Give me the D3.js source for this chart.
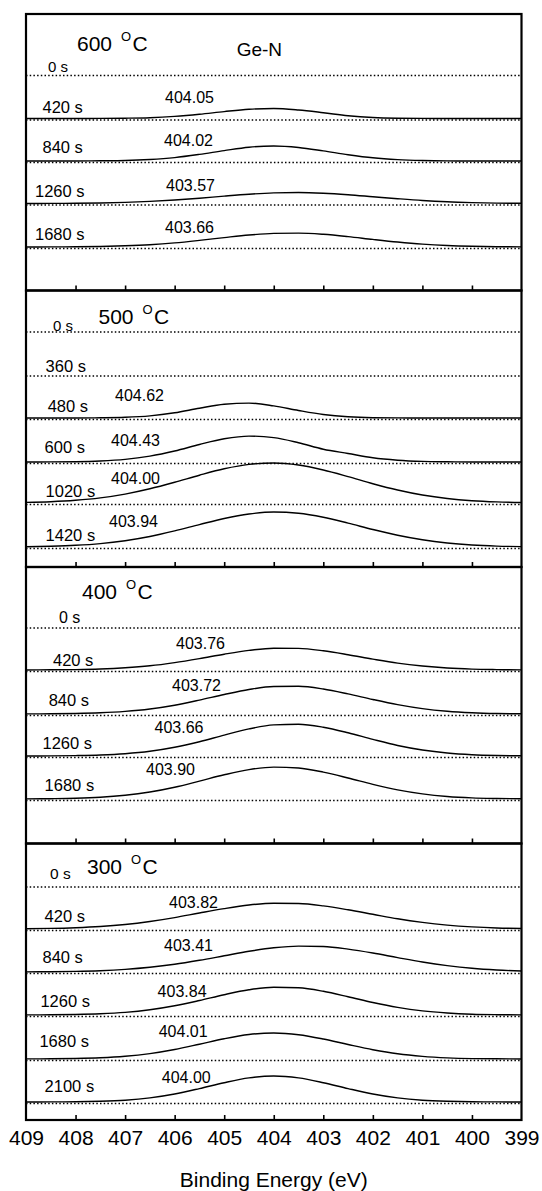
<!DOCTYPE html>
<html>
<head>
<meta charset="utf-8">
<script src="https://cdn.jsdelivr.net/npm/d3@7"></script>
<style>
    body { margin: 0; background: #fff; }
    #chart-area { width: 542px; height: 1191px; }
    text { font-family: "Liberation Sans", Arial, sans-serif; fill: #000; }
</style>
</head>
<body>
<div id="chart-area"></div>
<script>
/* * * * * * * * * * * * * *
*     Ge-N XPS SPECTRA     *
* * * * * * * * * * * * * */

// binding energy grid of the fitted peaks (eV)
const energy = [409, 408.5, 408, 407.5, 407, 406.5, 406, 405.5, 405, 404.5, 404,
    403.5, 403, 402.5, 402, 401.5, 401, 400.5, 400, 399.5, 399];
const xTickValues = [409, 408, 407, 406, 405, 404, 403, 402, 401, 400, 399];
const temps = ["600", "500", "400", "300"];

// 600 C
const times600 = ["0 s", "420 s", "840 s", "1260 s", "1680 s"];
const peaks600 = ["", "404.05", "404.02", "403.57", "403.66"];
const offsets600 = [2150, 1720, 1295, 870, 435];
const spectra600 = [
    null,
    [0, 0, 0, 1, 3, 8, 21, 42, 69, 92, 100, 85, 58, 28, 10, 3, 1, 0, 0, 0, 0],
    [0, 0, 0, 2, 5, 15, 34, 66, 104, 138, 150, 135, 101, 63, 32, 14, 5, 1, 0, 0, 0],
    [0, 1, 2, 5, 11, 21, 35, 53, 74, 93, 106, 110, 103, 88, 68, 48, 30, 17, 9, 4, 2],
    [0, 1, 2, 5, 12, 23, 41, 66, 94, 120, 136, 139, 127, 104, 76, 50, 29, 15, 7, 3, 1]
];

// 500 C
const times500 = ["0 s", "360 s", "480 s", "600 s", "1020 s", "1420 s"];
const peaks500 = ["", "", "404.62", "404.43", "404.00", "403.94"];
const offsets500 = [2350, 1910, 1490, 1050, 640, 200];
const spectra500 = [
    null,
    null,
    [0, 0, 0, 2, 7, 21, 52, 98, 138, 149, 121, 75, 35, 12, 3, 1, 0, 0, 0, 0, 0],
    [0, 1, 3, 10, 26, 59, 110, 175, 232, 259, 244, 193, 128, 85, 42, 18, 6, 2, 0, 0, 0],
    [6, 13, 27, 51, 89, 142, 207, 278, 342, 386, 400, 380, 330, 264, 193, 130, 80, 45, 23, 11, 5],
    [3, 8, 17, 34, 63, 105, 161, 224, 285, 330, 350, 338, 298, 239, 175, 117, 72, 40, 20, 9, 4]
];

// 400 C
const times400 = ["0 s", "420 s", "840 s", "1260 s", "1680 s"];
const peaks400 = ["", "403.76", "403.72", "403.66", "403.90"];
const offsets400 = [2155, 1735, 1295, 875, 445];
const spectra400 = [
    null,
    [0, 2, 4, 10, 22, 42, 74, 114, 158, 196, 218, 216, 192, 153, 109, 69, 40, 20, 9, 4, 1],
    [1, 2, 5, 12, 26, 50, 88, 139, 195, 245, 275, 277, 250, 201, 145, 94, 54, 28, 13, 5, 2],
    [0, 1, 4, 10, 23, 47, 87, 143, 209, 271, 311, 318, 288, 232, 166, 105, 60, 30, 13, 5, 2],
    [1, 3, 7, 17, 37, 70, 118, 179, 242, 294, 319, 310, 269, 210, 146, 91, 51, 25, 11, 5, 2]
];

// 300 C
const times300 = ["0 s", "420 s", "840 s", "1260 s", "1680 s", "2100 s"];
const peaks300 = ["", "403.82", "403.41", "403.84", "404.01", "404.00"];
const offsets300 = [2330, 1910, 1480, 1050, 610, 180];
const spectra300 = [
    null,
    [3, 6, 13, 25, 45, 75, 114, 160, 204, 240, 258, 255, 231, 192, 147, 102, 66, 39, 21, 10, 5],
    [1, 3, 6, 13, 26, 47, 77, 117, 162, 207, 242, 259, 255, 229, 190, 144, 100, 64, 37, 20, 10],
    [1, 2, 5, 12, 26, 52, 92, 145, 203, 252, 278, 272, 237, 183, 125, 76, 41, 20, 8, 3, 1],
    [1, 2, 5, 12, 27, 54, 95, 148, 203, 245, 260, 243, 200, 145, 93, 52, 26, 11, 4, 2, 0],
    [0, 1, 2, 7, 18, 41, 80, 134, 193, 241, 260, 241, 193, 134, 80, 41, 18, 7, 2, 1, 0]
];

// label placement (px inside each panel): [time x, time dy, peak x, peak dy]
const layout600 = [[22, 4], [16.5, 6, 139, 16], [16.5, 8, 138, 15], [9, 7, 140, 13], [9, 7, 139, 14]];
const layout500 = [[27, 1], [19.6, 4], [21.7, 6, 89, 17], [18.6, 9, 85, 16], [19.6, 6, 85, 19], [19.6, 6, 83, 20]];
const layout400 = [[33, 5], [27, 4, 150, 21], [22.7, 8, 146, 23], [16.5, 7, 128.5, 23], [18.6, 8, 120, 24]];
const layout300 = [[24, 8], [18.6, 7, 143, 21], [16.5, 9, 138, 21], [14.4, 8, 131.6, 18], [13.4, 12, 132.7, 22], [18.6, 10, 135.8, 19]];
const zeroLabelSize = [15, 15, 16, 15.5];
const tempLabelPos = [[51, 36.7], [72.5, 33.5], [56, 32], [61, 30.5]];


class SpectraVis {

    constructor(parentElement, panels) {
        this.parentElement = parentElement;
        this.panels = panels;

        this.initVis();
    }

    /**
     * Sets up svg, shared x scale and the per-panel y scale
     */
    initVis() {
        let vis = this;

        vis.margin = { top: 14, right: 20.5, bottom: 71, left: 26 };
        vis.width = 542 - vis.margin.left - vis.margin.right;
        vis.height = 1191 - vis.margin.top - vis.margin.bottom;

        vis.svg = d3.select("#" + vis.parentElement).append("svg")
            .attr("width", 542)
            .attr("height", 1191)
            .append("g")
            .attr("transform", `translate(${vis.margin.left}, ${vis.margin.top})`);

        vis.panelH = vis.height / vis.panels.length;

        vis.x = d3.scaleLinear()
            .domain([409, 399])
            .range([0, vis.width]);

        // intensity (a.u.) inside one panel
        vis.y = d3.scaleLinear()
            .domain([0, 2765])
            .range([vis.panelH, 0]);

        vis.line = d3.line()
            .x(d => vis.x(d[0]))
            .y(d => vis.y(d[1]))
            .curve(d3.curveMonotoneX);

        vis.updateVis();
    }

    updateVis() {
        let vis = this;

        vis.panelGroups = vis.svg.selectAll(".panel")
            .data(vis.panels)
            .enter().append("g")
            .attr("class", "panel")
            .attr("transform", (d, i) => `translate(0, ${i * vis.panelH})`);

        vis.panelGroups.each(function (p, i) {
            let g = d3.select(this);

            // frame
            g.append("rect")
                .attr("width", vis.width)
                .attr("height", vis.panelH)
                .attr("fill", "none")
                .attr("stroke", "#000")
                .attr("stroke-width", 2.2);

            // inward ticks on the bottom edge
            g.append("g")
                .attr("transform", `translate(0, ${vis.panelH})`)
                .call(d3.axisBottom(vis.x).tickValues(xTickValues.slice(1, -1)).tickSize(-5).tickFormat(""))
                .call(a => a.select(".domain").remove())
                .selectAll("line")
                .attr("stroke", "#000")
                .attr("stroke-width", 1.6);

            // temperature
            let tl = g.append("text")
                .attr("x", tempLabelPos[i][0])
                .attr("y", tempLabelPos[i][1])
                .style("font-size", "21px");
            tl.append("tspan").text(p.temp + " ");
            tl.append("tspan").attr("dx", 3).attr("dy", -10).style("font-size", "13px").text("O");
            tl.append("tspan").attr("dx", 1.5).attr("dy", 10).text("C");

            if (i === 0) {
                g.append("text")
                    .attr("x", 210.7)
                    .attr("y", 42)
                    .style("font-size", "19px")
                    .text("Ge-N");
            }

            p.times.forEach((t, j) => {
                let base = p.offsets[j];
                let spec = p.spectra[j];
                let pos = p.layout[j];
                let yBase = vis.y(base);

                // dotted baseline
                g.append("path")
                    .datum([[409, base], [399, base]])
                    .attr("d", vis.line)
                    .attr("transform", spec ? "translate(0,1.5)" : null)
                    .attr("fill", "none")
                    .attr("stroke", "#000")
                    .attr("stroke-width", 1.6)
                    .attr("stroke-dasharray", "1.5 2.2");

                // fitted Ge-N component
                if (spec) {
                    g.append("path")
                        .datum(energy.map((e, k) => [e, base + spec[k]]))
                        .attr("d", vis.line)
                        .attr("fill", "none")
                        .attr("stroke", "#000")
                        .attr("stroke-width", 1.4);
                }

                g.append("text")
                    .attr("x", pos[0])
                    .attr("y", yBase - pos[1])
                    .style("font-size", j === 0 ? zeroLabelSize[i] + "px" : "16.5px")
                    .text(t);

                if (p.peaks[j]) {
                    g.append("text")
                        .attr("x", pos[2])
                        .attr("y", yBase - pos[3])
                        .style("font-size", "16px")
                        .text(p.peaks[j]);
                }
            });
        });

        // energy axis under the last panel
        vis.svg.append("g")
            .attr("class", "x-axis")
            .attr("transform", `translate(0, ${vis.height})`)
            .call(d3.axisBottom(vis.x).tickValues(xTickValues).tickSize(0).tickPadding(10).tickFormat(d3.format("d")))
            .call(a => a.select(".domain").remove())
            .selectAll("text")
            .style("font-family", '"Liberation Sans", Arial, sans-serif')
            .style("font-size", "21px")
            .attr("fill", "#000");

        vis.svg.append("text")
            .attr("x", vis.width / 2)
            .attr("y", vis.height + 67)
            .attr("text-anchor", "middle")
            .style("font-size", "21px")
            .text("Binding Energy (eV)");
    }
}

let panelData = [
    { temp: temps[0], times: times600, peaks: peaks600, offsets: offsets600, spectra: spectra600, layout: layout600 },
    { temp: temps[1], times: times500, peaks: peaks500, offsets: offsets500, spectra: spectra500, layout: layout500 },
    { temp: temps[2], times: times400, peaks: peaks400, offsets: offsets400, spectra: spectra400, layout: layout400 },
    { temp: temps[3], times: times300, peaks: peaks300, offsets: offsets300, spectra: spectra300, layout: layout300 }
];

let spectraVis = new SpectraVis("chart-area", panelData);
</script>
</body>
</html>
